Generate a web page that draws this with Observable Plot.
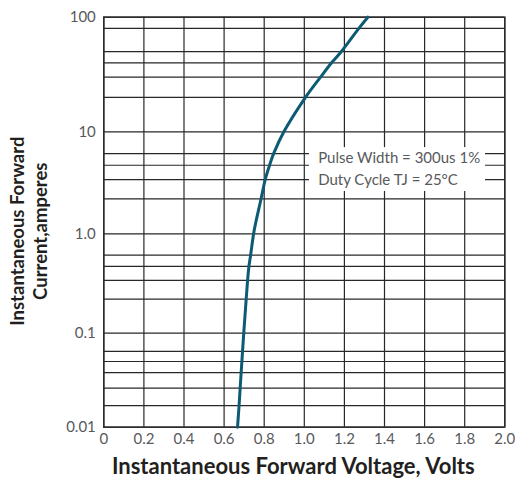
<!DOCTYPE html>
<html>
<head>
<meta charset="utf-8">
<script src="https://cdn.jsdelivr.net/npm/d3@7"></script>
<script src="https://cdn.jsdelivr.net/npm/@observablehq/plot@0.6"></script>
<style>
  html, body { margin: 0; padding: 0; background: #ffffff; }
</style>
</head>
<body>
<div id="chart"></div>
<script>
// Forward characteristic
const voltage = [0.667, 0.675, 0.685, 0.698, 0.710, 0.723, 0.732, 0.750, 0.785, 0.806, 0.828, 0.848, 0.898, 1.006, 1.081, 1.136, 1.184, 1.272, 1.317];
const current = [0.01, 0.0174, 0.038, 0.1, 0.218, 0.455, 0.605, 1.08, 2.23, 3.46, 4.78, 6.17, 10, 20, 30, 40, 50, 80, 100];

const xTicks = [0, 0.2, 0.4, 0.6, 0.8, 1.0, 1.2, 1.4, 1.6, 1.8, 2.0];
const xTickLabels = ["0", "0.2", "0.4", "0.6", "0.8", "1.0", "1.2", "1.4", "1.6", "1.8", "2.0"];
const yTicks = [0.01, 0.1, 1, 10, 100];
const yTickLabels = ["0.01", "0.1", "1.0", "10", "100"];
const yGrid = [0.01, 0.017, 0.026, 0.038, 0.05, 0.064, 0.1, 0.22, 0.34, 0.47, 0.61, 1, 2.2, 3.4, 4.7, 6.1, 10, 20, 30, 40, 50, 80, 100];

const noteLines = ["Pulse Width = 300us 1%", "Duty Cycle TJ = 25°C"];
const noteX = [1.069, 1.069];
const noteY = [5.56, 3.33];
const noteBox = [{x1: 1.026, x2: 1.904, y1: 2.6, y2: 7.0}];

const xTitle = "Instantaneous Forward Voltage, Volts";
const yTitle = "Instantaneous Forward\nCurrent,amperes";

const data = voltage.map((v, i) => ({v, i: current[i]}));
const gridColor = "#2b2728";
const textColor = "#58595b";

const chart = Plot.plot({
  width: 515,
  height: 482,
  marginLeft: 103.3,
  marginRight: 10.7,
  marginTop: 16.7,
  marginBottom: 55.3,
  style: {fontFamily: "Lato, 'Open Sans', sans-serif", background: "#ffffff"},
  x: {domain: [0, 2], axis: null},
  y: {type: "log", domain: [0.01, 0.1, 1, 10, 100], range: [426.7, 332.7, 233.3, 131.3, 16.7], axis: null},
  marks: [
    Plot.ruleY(yGrid, {stroke: gridColor, strokeWidth: 1.2}),
    Plot.ruleX(xTicks, {stroke: gridColor, strokeWidth: 1.2}),
    Plot.rect(noteBox, {x1: "x1", x2: "x2", y1: "y1", y2: "y2", fill: "#ffffff"}),
    Plot.text(noteLines, {x: noteX, y: noteY, text: d => d, textAnchor: "start", lineAnchor: "middle", fontSize: 15, fill: textColor}),
    Plot.frame({stroke: gridColor, strokeWidth: 1.4}),
    Plot.line(data, {x: "v", y: "i", stroke: "#0d5a74", strokeWidth: 3, curve: "catmull-rom"}),
    Plot.text(xTicks, {x: d => d, text: (d, k) => xTickLabels[k], frameAnchor: "bottom", lineAnchor: "top", dy: 6, fontSize: 15, fill: textColor}),
    Plot.text(yTicks, {y: d => d, text: (d, k) => yTickLabels[k], frameAnchor: "left", textAnchor: "end", lineAnchor: "middle", dx: -8, fontSize: 15, fill: textColor}),
    Plot.text([xTitle], {frameAnchor: "bottom", dy: 40, dx: -11, lineAnchor: "middle", fontSize: 22, fontWeight: "bold", fill: "#231f20"}),
    Plot.text([yTitle], {frameAnchor: "left", dx: -76, dy: 9, rotate: -90, textAnchor: "middle", lineAnchor: "middle", lineHeight: 1.25, fontSize: 18.5, fontWeight: "bold", fill: "#231f20"})
  ]
});
document.getElementById("chart").appendChild(chart);
</script>
</body>
</html>
